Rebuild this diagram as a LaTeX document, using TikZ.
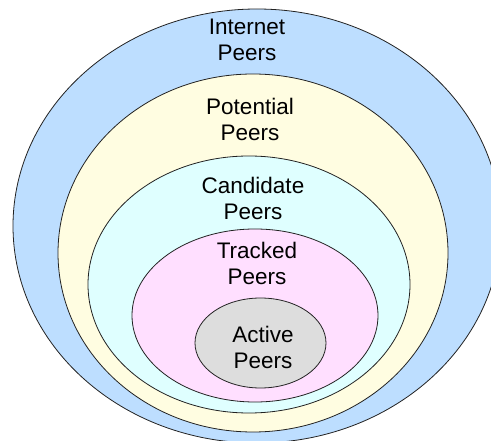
\documentclass[tikz,border=0pt]{standalone}
\usepackage{fontspec}
\setmainfont{Liberation Sans}
\usetikzlibrary{shapes.geometric}
\definecolor{cInternet}{HTML}{BDDEFF}
\definecolor{cPotential}{HTML}{FFFDE1}
\definecolor{cCandidate}{HTML}{DFFFFF}
\definecolor{cTracked}{HTML}{FFDFFF}
\definecolor{cActive}{HTML}{DDDDDD}
\definecolor{cLine}{HTML}{222222}
\tikzset{
  ring/.style={ellipse, draw=cLine, line width=0.8pt, inner sep=0pt},
  lbl/.style={align=center, inner sep=0pt, font=\fontsize{22.5}{26}\selectfont, text=black}
}
\begin{document}
\begin{tikzpicture}[x=1pt,y=-1pt]
\useasboundingbox (0,0) rectangle (491,441);
\clip (0,0) rectangle (491,441);
\node[ring, fill=cInternet, minimum width=488, minimum height=434] (internet) at (257,226) {};
\node[ring, fill=cPotential, minimum width=390, minimum height=358] (potential) at (253,253) {};
\node[ring, fill=cCandidate, minimum width=322, minimum height=257] (candidate) at (249,284.5) {};
\node[ring, fill=cTracked, minimum width=246, minimum height=173] (tracked) at (255,315.5) {};
\node[ring, fill=cActive, minimum width=131, minimum height=90] (active) at (260.5,343) {};
\node[lbl] (tInternet) at (247,40) {Internet\\Peers};
\node[lbl] (tPotential) at (250,119) {Potential\\Peers};
\node[lbl] (tCandidate) at (253,198.5) {Candidate\\Peers};
\node[lbl] (tTracked) at (257,263.5) {Tracked\\Peers};
\node[lbl] (tActive) at (263,347) {Active\\Peers};
\end{tikzpicture}
\end{document}
